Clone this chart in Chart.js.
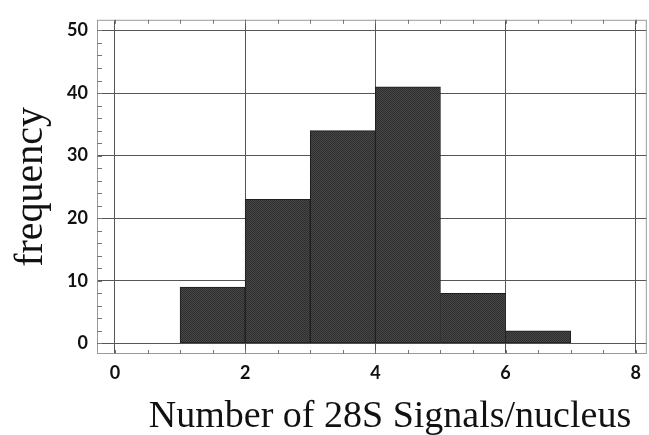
<!DOCTYPE html>
<html>
<head>
<meta charset="utf-8">
<script src="https://cdn.jsdelivr.net/npm/chart.js@4.4.1/dist/chart.umd.min.js"></script>
<style>
  html, body { margin: 0; padding: 0; background: #ffffff; }
  #wrap { width: 649px; height: 435px; }
</style>
</head>
<body>
<div id="wrap"><canvas id="c" width="649" height="435"></canvas></div>
<script>
// ---- data ----
const binCenters = [1.5, 2.5, 3.5, 4.5, 5.5, 6.5];
const frequencies = [9, 23, 34, 41, 8, 2];
const xTicks = [0, 2, 4, 6, 8];
const yTicks = [0, 10, 20, 30, 40, 50];
const xTitle = 'Number of 28S Signals/nucleus';
const yTitle = 'frequency';

function makePattern() {
  const p = document.createElement('canvas');
  p.width = 2; p.height = 2;
  const g = p.getContext('2d');
  g.fillStyle = '#474747'; g.fillRect(0, 0, 2, 2);
  g.fillStyle = '#2e2e2e'; g.fillRect(0, 0, 1, 1); g.fillRect(1, 1, 1, 1);
  return g.createPattern(p, 'repeat');
}

const framePlugin = {
  id: 'frame',
  afterDraw(chart) {
    const { ctx, chartArea: a, scales } = chart;
    const xs = scales.x, ys = scales.y;
    ctx.save();
    ctx.strokeStyle = '#9a9a9a';
    ctx.lineWidth = 1;
    ctx.strokeRect(a.left + 0.5, a.top + 0.5, a.right - a.left - 1, a.bottom - a.top - 1);
    ctx.strokeStyle = '#777';
    ctx.beginPath();
    for (let v = 0; v <= 8.001; v += 0.5) {
      const px = Math.round(xs.getPixelForValue(v)) + 0.5;
      ctx.moveTo(px, a.bottom); ctx.lineTo(px, a.bottom - 4);
      ctx.moveTo(px, a.top); ctx.lineTo(px, a.top + 4);
    }
    for (let v = 0; v <= 50.001; v += 2) {
      const py = Math.round(ys.getPixelForValue(v)) + 0.5;
      ctx.moveTo(a.left, py); ctx.lineTo(a.left + 5, py);
    }
    ctx.stroke();
    // x title
    ctx.fillStyle = '#111';
    ctx.font = '38px "Liberation Serif", "Times New Roman", serif';
    ctx.textAlign = 'center';
    ctx.textBaseline = 'alphabetic';
    ctx.fillText(xTitle, 390, 427);
    ctx.restore();
  }
};

const ctx = document.getElementById('c').getContext('2d');
new Chart(ctx, {
  type: 'bar',
  data: {
    datasets: [{
      data: binCenters.map((x, i) => ({ x: x, y: frequencies[i] })),
      backgroundColor: makePattern(),
      borderColor: '#1e1e1e',
      borderWidth: 1,
      borderSkipped: false,
      barPercentage: 1,
      categoryPercentage: 1
    }]
  },
  options: {
    responsive: false,
    animation: false,
    devicePixelRatio: 1,
    layout: { padding: { top: 8, right: 1, left: 0, bottom: 0 } },
    plugins: { legend: { display: false }, tooltip: { enabled: false } },
    scales: {
      x: {
        type: 'linear',
        offset: false,
        min: -0.276,
        max: 8.17,
        afterBuildTicks(s) { s.ticks = xTicks.map(v => ({ value: v })); },
        afterFit(s) { s.height = 81; },
        grid: { color: '#555', lineWidth: 1, drawTicks: false, offset: false },
        border: { display: false },
        ticks: {
          padding: 8,
          color: '#111',
          font: { family: 'Lato, "DejaVu Sans", sans-serif', size: 18, weight: 'bold' },
          maxRotation: 0
        },
        title: { display: false }
      },
      y: {
        min: -1.7,
        max: 51.7,
        afterBuildTicks(s) { s.ticks = yTicks.map(v => ({ value: v })); },
        afterFit(s) { s.width = 97; },
        grid: { color: '#555', lineWidth: 1, drawTicks: false },
        border: { display: false },
        ticks: {
          padding: 9,
          color: '#111',
          font: { family: 'Lato, "DejaVu Sans", sans-serif', size: 18, weight: 'bold' }
        },
        title: {
          display: true,
          text: yTitle,
          color: '#111',
          padding: { top: 7, bottom: 0 },
          font: { family: '"Liberation Serif", "Times New Roman", serif', size: 40, lineHeight: 1.2 }
        }
      }
    }
  },
  plugins: [framePlugin]
});
</script>
</body>
</html>
